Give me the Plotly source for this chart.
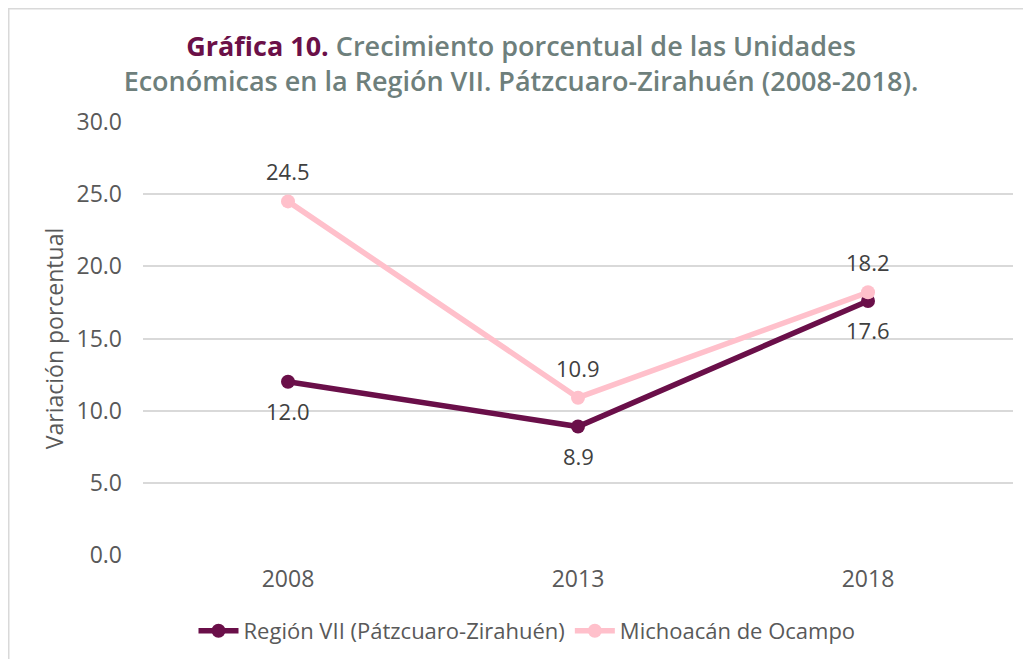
import plotly.graph_objects as go

years = ["2008", "2013", "2018"]
region_vals = [12.0, 8.9, 17.6]
mich_vals = [24.5, 10.9, 18.2]
region_name = "Región VII (Pátzcuaro-Zirahuén)"
mich_name = "Michoacán de Ocampo"
y_ticks = [0, 5, 10, 15, 20, 25, 30]
title_line1_bold = "Gráfica 10."
title_line1_rest = "Crecimiento porcentual de las Unidades"
title_line2 = "Económicas en la Región VII. Pátzcuaro-Zirahuén (2008-2018)."

# page body has an 8px margin; figure sized to fill the rest of the window
W, H = 1023, 651
ml, mr, mt, mb = 135, 18, 114, 104
pw = W - ml - mr
ph = H - mt - mb

FONT = "Open Sans"
TXT = "#595959"
LBL = "#404040"
TITLE_C = "#6e7f7c"


def px_x(fx):
    return (fx - ml) / pw


def px_y(fy):
    return (H - mb - fy) / ph


fig = go.Figure()
fig.add_trace(go.Scatter(
    x=years, y=region_vals, name=region_name, mode="lines+markers",
    line=dict(color="#6a0f49", width=5.5), marker=dict(size=14, color="#6a0f49"),
))
fig.add_trace(go.Scatter(
    x=years, y=mich_vals, name=mich_name, mode="lines+markers",
    line=dict(color="#ffc0cb", width=5.5), marker=dict(size=14, color="#ffc0cb"),
))

annotations = []
for i, v in enumerate(region_vals):
    annotations.append(dict(x=i, y=v, xref="x", yref="y", text=f"{v:.1f}", showarrow=False,
                            yshift=-29, font=dict(size=22, color=LBL, family=FONT)))
for i, v in enumerate(mich_vals):
    annotations.append(dict(x=i, y=v, xref="x", yref="y", text=f"{v:.1f}", showarrow=False,
                            yshift=30, font=dict(size=22, color=LBL, family=FONT)))

fig.update_layout(
    width=W, height=H,
    margin=dict(l=ml, r=mr, t=mt, b=mb, autoexpand=False),
    paper_bgcolor="white", plot_bgcolor="white",
    font=dict(family=FONT, color=TXT),
    title=dict(
        text=f"<span style='color:#6b1048;font-weight:700'>{title_line1_bold}</span> {title_line1_rest}<br>{title_line2}",
        x=(521 - 8) / W, xref="container", xanchor="center", y=1 - (56 - 8) / H, yanchor="middle",
        font=dict(size=27, color=TITLE_C, family=FONT, weight=600),
    ),
    showlegend=True,
    legend=dict(orientation="h", x=px_x(527 - 8), xanchor="center",
                y=px_y(631 - 8), yanchor="middle",
                font=dict(size=22, color=TXT, family=FONT),
                itemwidth=40, tracegroupgap=0),
    xaxis=dict(
        type="category", range=[-0.5, 2.5], showgrid=False, showline=False,
        ticks="", tickfont=dict(size=23, color=TXT, family=FONT),
        zeroline=False, ticklabelstandoff=8,
    ),
    yaxis=dict(
        range=[0, 30], tickvals=y_ticks, ticktext=[f"{v:.1f}" for v in y_ticks],
        showgrid=True, gridcolor="#d9d9d9", gridwidth=1.5, zeroline=False,
        tickfont=dict(size=23, color=TXT, family=FONT),
        title=dict(text="Variación porcentual", font=dict(size=23, color=TXT, family=FONT), standoff=6),
        ticks="", ticklabelstandoff=20,
    ),
    annotations=annotations,
    shapes=[
        dict(type="line", xref="paper", yref="paper",
             x0=px_x(0.5), x1=px_x(0.5), y0=px_y(0), y1=px_y(H),
             line=dict(color="#d9d9d9", width=2)),
        dict(type="line", xref="paper", yref="paper",
             x0=px_x(0.5), x1=px_x(W), y0=px_y(0.5), y1=px_y(0.5),
             line=dict(color="#d9d9d9", width=2)),
    ],
)

fig.write_html("out.html")
